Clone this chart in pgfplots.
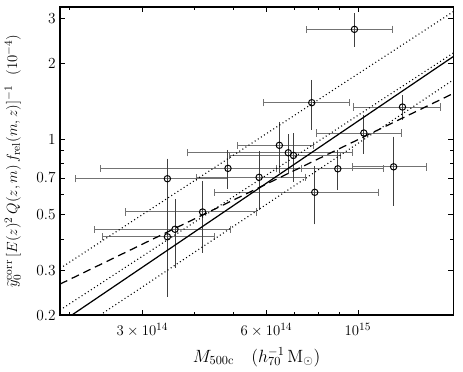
\documentclass[border=0pt]{standalone}
\usepackage{pgfplots}
\usepackage{pgfplotstable}
\pgfplotsset{compat=1.18}

% cluster values, mass in units of 1e14
\pgfplotstableread{
x     y      ex    ey
9.81  2.72   2.30  0.33
7.73  1.392  1.82  0.272
12.83 1.338  3.05  0.108
10.34 1.055  2.41  0.156
6.45  0.943  1.36  0.19
6.78  0.881  2.93  0.13
6.98  0.860  2.10  0.163
4.84  0.764  2.47  0.113
5.76  0.704  1.70  0.166
3.45  0.695  1.38  0.116
8.94  0.761  2.60  0.116
12.21 0.775  2.50  0.215
7.86  0.614  3.36  0.142
4.20  0.513  1.47  0.148
3.60  0.438  1.30  0.12
3.45  0.409  1.05  0.165
}\clusters

\begin{document}
\begin{tikzpicture}
\begin{axis}[
    scale only axis,
    width=319.5pt, height=250.4pt,
    xmode=log, ymode=log,
    xmin=1.894, xmax=17.03,
    ymin=0.2, ymax=3.336,
    xtick={3,6,10},
    xticklabels={$3\times10^{14}$,$6\times10^{14}$,$10^{15}$},
    minor xtick={2,4,5,7,8,9},
    ytick={0.2,0.3,0.5,0.7,1,2,3},
    yticklabels={0.2,0.3,0.5,0.7,1,2,3},
    minor ytick={0.4,0.6,0.8,0.9},
    axis line style={line width=1pt},
    tick style={black, line width=0.6pt},
    tick label style={font=\fontsize{12.5}{14}\selectfont},
    xticklabel style={yshift=-3pt},
    label style={font=\fontsize{12.5}{14}\selectfont},
    xlabel={$M_{\rm 500c}\quad(h_{70}^{-1}\,{\rm M}_\odot)$},
    ylabel={$\widetilde{y}_0^{\rm corr}\,[E(z)^2\,Q(z,m)\,f_{\rm rel}(m,z)]^{-1}\ \ (10^{-4})$},
    x label style={at={(axis description cs:0.5,-0.1354)}, anchor=center, font=\fontsize{14}{16}\selectfont},
    y label style={at={(axis description cs:-0.1200,0.5)}, anchor=center},
]
% horizontal error bars
\addplot[draw=none, mark=none, forget plot,
    error bars/.cd, x dir=both, x explicit,
    error bar style={draw=black!55, line width=0.8pt},
    error mark options={draw=black!55, line width=0.8pt, mark size=3pt, rotate=90}]
    table[x=x, y=y, x error=ex] {\clusters};
% vertical error bars
\addplot[draw=none, mark=none, forget plot,
    error bars/.cd, y dir=both, y explicit,
    error bar style={draw=black!75, line width=0.8pt},
    error mark options={draw=black!75, line width=0.8pt, mark size=2.7pt}]
    table[x=x, y=y, y error=ey] {\clusters};
% markers
\addplot[only marks, mark=o, mark size=2.6pt, mark options={line width=0.8pt, draw=black, fill=none}]
    table[x=x, y=y] {\clusters};

% fits
\addplot[black, line width=1pt] coordinates {(2.022,0.2) (17.03,2.12)};
\addplot[black, line width=1pt, dash pattern=on 6.5pt off 4pt] coordinates {(1.894,0.2655) (17.03,1.514)};
\addplot[black, line width=0.9pt, dash pattern=on 0.8pt off 2.2pt] coordinates {(1.894,0.3064) (17.03,3.196)};
\addplot[black, line width=0.9pt, dash pattern=on 0.8pt off 2.2pt] coordinates {(1.894,0.2094) (17.03,2.19)};
\addplot[black, line width=0.9pt, dash pattern=on 0.8pt off 2.2pt] coordinates {(2.368,0.2) (17.03,1.712)};
\end{axis}
\pgfresetboundingbox
\useasboundingbox (-48.8pt,-45.5pt) rectangle (327.5pt,256.1pt);
\end{tikzpicture}
\end{document}
